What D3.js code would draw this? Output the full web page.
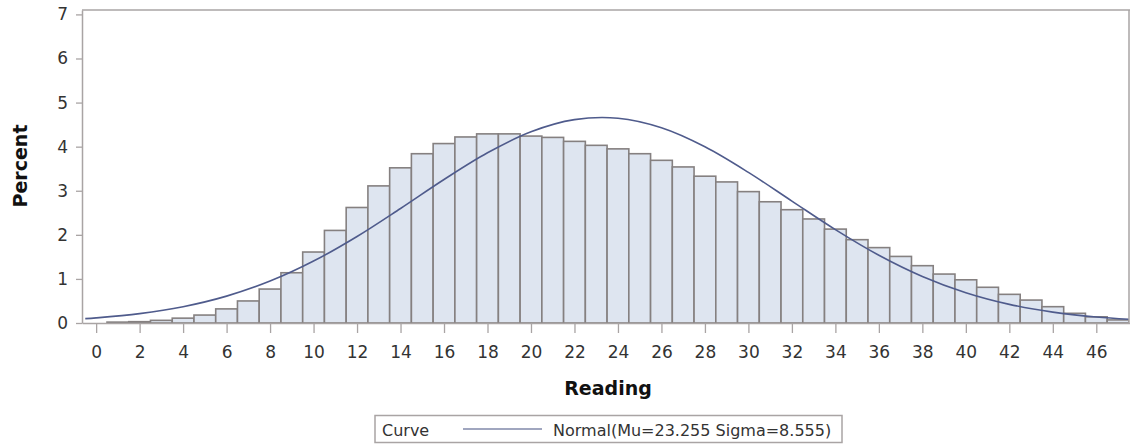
<!DOCTYPE html>
<html><head><meta charset="utf-8">
<script src="https://cdn.jsdelivr.net/npm/d3@7"></script>
<style>body{margin:0;background:#fff}svg{display:block}</style>
</head><body>
<svg id="c" width="1130" height="447"></svg>
<script>
// bins (midpoints) and percent heights
const binMid = [1,2,3,4,5,6,7,8,9,10,11,12,13,14,15,16,17,18,19,20,21,22,23,24,25,26,27,28,29,30,31,32,33,34,35,36,37,38,39,40,41,42,43,44,45,46,47];
const binPct = [0.02,0.03,0.06,0.11,0.18,0.32,0.5,0.77,1.14,1.61,2.1,2.62,3.11,3.52,3.84,4.07,4.22,4.29,4.29,4.24,4.21,4.12,4.03,3.95,3.84,3.69,3.54,3.33,3.2,2.98,2.75,2.57,2.36,2.13,1.89,1.71,1.51,1.3,1.11,0.98,0.81,0.65,0.52,0.37,0.22,0.14,0.07];
// normal curve points
const curveX = [-0.5,0,2,4,6,8,10,12,14,16,18,20,22,24,26,28,30,32,34,36,38,40,42,44,46,47.5];
const curvePct = [0.099,0.116,0.213,0.370,0.610,0.951,1.405,1.963,2.598,3.255,3.861,4.338,4.613,4.645,4.429,3.998,3.417,2.766,2.118,1.537,1.056,0.687,0.423,0.247,0.136,0.084];
const xTicks = [0,2,4,6,8,10,12,14,16,18,20,22,24,26,28,30,32,34,36,38,40,42,44,46];
const yTicks = [0,1,2,3,4,5,6,7];
const xTitle = "Reading", yTitle = "Percent";
const legendTitle = "Curve", legendLabel = "Normal(Mu=23.255 Sigma=8.555)";

const svg = d3.select("#c");
const L = 82, R = 1129, T = 10, B = 323;
const x = d3.scaleLinear().domain([-0.65, 47.55]).range([L, 1130]);
const y = d3.scaleLinear().domain([0, 7.1]).range([B, T]);
const font = "'DejaVu Sans', Verdana, sans-serif";
const axisCol = "#a9a4a4";

svg.append("clipPath").attr("id","pc").append("rect").attr("x",L).attr("y",T).attr("width",R-L).attr("height",B-T);

const g = svg.append("g").attr("clip-path","url(#pc)");
g.selectAll("rect.bar").data(binMid).join("rect").attr("class","bar")
  .attr("x", d => x(d - 0.5))
  .attr("width", d => x(d + 0.5) - x(d - 0.5))
  .attr("y", (d,i) => y(binPct[i]))
  .attr("height", (d,i) => y(0) - y(binPct[i]))
  .attr("fill", "#dee5f0").attr("stroke", "#858080").attr("stroke-width", 1.6);

const line = d3.line().x(d => x(d[0])).y(d => y(d[1])).curve(d3.curveCatmullRom);
g.append("path").datum(curveX.map((v,i)=>[v,curvePct[i]]))
  .attr("d", line).attr("fill","none").attr("stroke","#4f5b8c").attr("stroke-width",1.6);

// frame
svg.append("line").attr("x1",L).attr("x2",1130).attr("y1",T).attr("y2",T).attr("stroke",axisCol).attr("stroke-width",1.5);
svg.append("line").attr("x1",R).attr("x2",R).attr("y1",T).attr("y2",B).attr("stroke",axisCol).attr("stroke-width",1.5);

// x axis
const xa = svg.append("g").attr("transform",`translate(0,${B})`)
  .call(d3.axisBottom(x).tickValues(xTicks).tickSize(10).tickSizeOuter(0).tickPadding(13));
xa.select(".domain").attr("stroke",axisCol).attr("stroke-width",1.5);
xa.selectAll(".tick line").attr("stroke",axisCol).attr("stroke-width",1.3);
xa.selectAll("text").attr("font-family",font).attr("font-size",17).attr("fill","#333");

// y axis
const ya = svg.append("g").attr("transform",`translate(${L},0)`)
  .call(d3.axisLeft(y).tickValues(yTicks).tickSize(6).tickSizeOuter(0).tickPadding(8));
ya.select(".domain").attr("stroke",axisCol).attr("stroke-width",1.5);
ya.selectAll(".tick line").attr("stroke",axisCol).attr("stroke-width",1.3);
ya.selectAll("text").attr("font-family",font).attr("font-size",17).attr("fill","#333");

svg.append("text").attr("x",608).attr("y",395).attr("text-anchor","middle")
  .attr("font-family",font).attr("font-weight","bold").attr("font-size",19).attr("fill","#111").text(xTitle);
svg.append("text").attr("transform","translate(27,166) rotate(-90)").attr("text-anchor","middle")
  .attr("font-family",font).attr("font-weight","bold").attr("font-size",19).attr("fill","#111").text(yTitle);

// legend
const lg = svg.append("g");
lg.append("rect").attr("x",375).attr("y",415.5).attr("width",467).attr("height",27)
  .attr("fill","#fff").attr("stroke",axisCol).attr("stroke-width",1.5);
lg.append("text").attr("x",382).attr("y",436).attr("font-family",font).attr("font-size",16).attr("fill","#333").text(legendTitle);
lg.append("line").attr("x1",463).attr("x2",542).attr("y1",429).attr("y2",429).attr("stroke","#8088aa").attr("stroke-width",1.5);
lg.append("text").attr("x",553).attr("y",436).attr("font-family",font).attr("font-size",16).attr("fill","#333").text(legendLabel);
</script>
</body></html>
